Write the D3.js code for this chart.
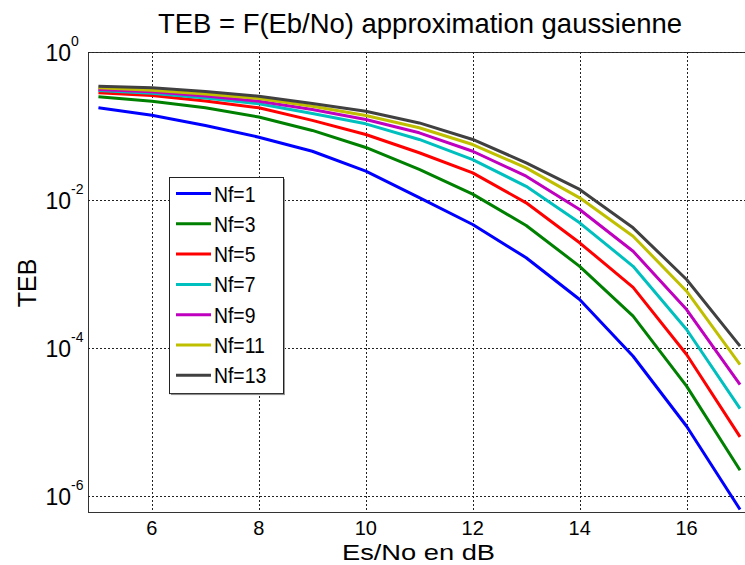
<!DOCTYPE html>
<html>
<head>
<meta charset="utf-8">
<script src="https://cdn.jsdelivr.net/npm/d3@7"></script>
<style>
  html, body { margin: 0; padding: 0; background: #fff; overflow: hidden; }
  svg { display: block; font-family: "Liberation Sans", Arial, sans-serif; }
</style>
</head>
<body>
<svg id="chart" width="745" height="565"></svg>
<script>
// ---- data ----
const esno = [5, 6, 7, 8, 9, 10, 11, 12, 13, 14, 15, 16, 17];
const labels = ["Nf=1", "Nf=3", "Nf=5", "Nf=7", "Nf=9", "Nf=11", "Nf=13"];
const nf1  = [0.176, 0.140, 0.1016, 0.0706, 0.0456, 0.0245, 0.0108, 4.67e-3, 1.66e-3, 4.52e-4, 7.74e-5, 8.77e-6, 6.58e-7];
const nf3  = [0.248, 0.216, 0.176, 0.132, 0.0871, 0.0513, 0.0260, 0.0120, 4.52e-3, 1.27e-3, 2.69e-4, 3.05e-5, 2.23e-6];
const nf5  = [0.281, 0.258, 0.218, 0.176, 0.119, 0.0767, 0.0435, 0.0233, 9.16e-3, 2.64e-3, 6.61e-4, 8.17e-5, 6.31e-6];
const nf7  = [0.302, 0.277, 0.239, 0.200, 0.148, 0.107, 0.0658, 0.0352, 0.0153, 4.92e-3, 1.27e-3, 1.78e-4, 1.52e-5];
const nf9  = [0.311, 0.290, 0.254, 0.216, 0.167, 0.1225, 0.0809, 0.0456, 0.0210, 7.45e-3, 2.03e-3, 3.31e-4, 3.21e-5];
const nf11 = [0.328, 0.305, 0.270, 0.236, 0.185, 0.139, 0.0946, 0.0562, 0.0272, 0.0107, 3.24e-3, 5.86e-4, 5.98e-5];
const nf13 = [0.345, 0.328, 0.292, 0.253, 0.201, 0.1585, 0.110, 0.0658, 0.0318, 0.0139, 4.21e-3, 8.43e-4, 1.06e-4];
const xTicks = [6, 8, 10, 12, 14, 16];
const yTickExps = [0, -2, -4, -6];
const colors = ["#0000ff", "#008000", "#ff0000", "#00bfbf", "#bf00bf", "#bfbf00", "#404040"];

const series = [nf1, nf3, nf5, nf7, nf9, nf11, nf13];

// ---- layout ----
const L = 88, R = 747, T = 52, B = 512;
const svg = d3.select("#chart");

const x = d3.scaleLinear().domain([4.805, 17.13]).range([L, R]);
const y = d3.scaleLog().domain([Math.pow(10, -6.216), 1]).range([B, T]);

svg.append("defs").append("clipPath").attr("id", "clip")
  .append("rect").attr("x", L).attr("y", T).attr("width", R - L).attr("height", B - T);

// box (right side falls just outside the picture)
svg.append("rect").attr("x", L + 0.5).attr("y", T + 0.5).attr("width", R - L).attr("height", B - T)
  .attr("fill", "#fff").attr("stroke", "#333").attr("stroke-width", 1);

// grid
const grid = svg.append("g").attr("stroke", "#222").attr("stroke-width", 1)
  .attr("stroke-dasharray", "2,2").attr("shape-rendering", "crispEdges");
grid.selectAll("line.vx").data(xTicks).join("line")
  .attr("x1", d => Math.round(x(d)) + 0.5).attr("x2", d => Math.round(x(d)) + 0.5)
  .attr("y1", T).attr("y2", B);
grid.selectAll("line.hy").data(yTickExps).join("line")
  .attr("y1", d => Math.round(y(Math.pow(10, d))) + 0.5).attr("y2", d => Math.round(y(Math.pow(10, d))) + 0.5)
  .attr("x1", L).attr("x2", R);

// lines
const line = d3.line().x((d, i) => x(esno[i])).y(d => y(d));
svg.append("g").attr("clip-path", "url(#clip)")
  .selectAll("path").data(series).join("path")
  .attr("d", d => line(d))
  .attr("fill", "none")
  .attr("stroke", (d, i) => colors[i])
  .attr("stroke-width", 3)
  .attr("stroke-linejoin", "round");

// x tick labels
svg.append("g").selectAll("text").data(xTicks).join("text")
  .attr("x", d => x(d)).attr("y", 535)
  .attr("text-anchor", "middle").attr("font-size", 20).attr("fill", "#000")
  .text(d => d);

// y tick labels
svg.append("g").selectAll("text").data(yTickExps).join("text")
  .attr("x", 71).attr("y", d => y(Math.pow(10, d)) + 8.5)
  .attr("font-size", 23).attr("fill", "#000").attr("text-anchor", "end")
  .text("10");
svg.append("g").selectAll("text").data(yTickExps).join("text")
  .attr("x", 71).attr("y", d => y(Math.pow(10, d)) - 6)
  .attr("font-size", 14).attr("fill", "#000")
  .text(d => d === 0 ? "0" : "-" + Math.abs(d));

// title & axis labels
svg.append("text").attr("x", 158).attr("y", 32.5)
  .attr("font-size", 27.5).attr("textLength", 524).attr("lengthAdjust", "spacingAndGlyphs")
  .text("TEB = F(Eb/No) approximation gaussienne");
svg.append("text").attr("x", 342).attr("y", 560)
  .attr("font-size", 22).attr("textLength", 153).attr("lengthAdjust", "spacingAndGlyphs")
  .text("Es/No en dB");
svg.append("text").attr("transform", "translate(36,283) rotate(-90)").attr("text-anchor", "middle")
  .attr("font-size", 25).text("TEB");

// legend
const lx = 169, ly = 177, lw = 114, rowH = 30.3;
const lh = rowH * labels.length + 4;
const lg = svg.append("g");
lg.append("rect").attr("x", lx + 2).attr("y", ly + 2).attr("width", lw).attr("height", lh).attr("fill", "#999");
lg.append("rect").attr("x", lx + 0.5).attr("y", ly + 0.5).attr("width", lw).attr("height", lh)
  .attr("fill", "#fff").attr("stroke", "#222").attr("stroke-width", 1);
const items = lg.selectAll("g.item").data(labels).join("g")
  .attr("transform", (d, i) => `translate(0,${ly + 16.5 + i * rowH})`);
items.append("line").attr("x1", 176).attr("x2", 211).attr("y1", 0).attr("y2", 0)
  .attr("stroke", (d, i) => colors[i]).attr("stroke-width", 3);
items.append("text").attr("x", 214).attr("y", 8).attr("font-size", 22)
  .attr("transform", "translate(214,0) scale(0.88,1) translate(-214,0)")
  .text(d => d);
</script>
</body>
</html>
